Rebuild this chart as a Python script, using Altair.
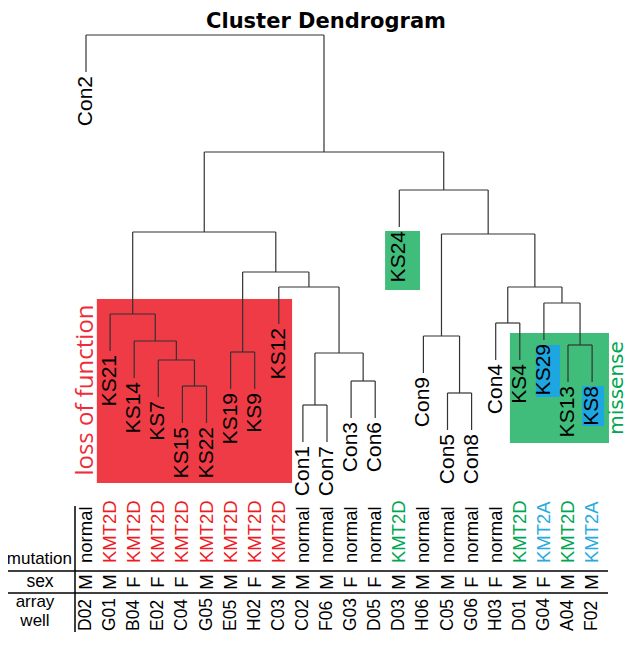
import altair as alt
import pandas as pd

# ---------------- data ----------------
leaves = ["Con2", "KS21", "KS14", "KS7", "KS15", "KS22", "KS19", "KS9", "KS12",
          "Con1", "Con7", "Con3", "Con6", "KS24", "Con9", "Con5", "Con8",
          "Con4", "KS4", "KS29", "KS13", "KS8"]
wells = ["D02", "G01", "B04", "E02", "C04", "G05", "E05", "H02", "C03", "C02", "F06",
         "G03", "D05", "D03", "H06", "C05", "G06", "H03", "D01", "G04", "A04", "F02"]
sex = ["M", "M", "F", "F", "F", "M", "M", "F", "M", "M", "M",
       "F", "F", "M", "M", "M", "F", "F", "M", "F", "M", "M"]
mutation = ["normal"] + ["KMT2D"] * 8 + ["normal"] * 4 + ["KMT2D"] + ["normal"] * 4 + \
           ["KMT2D", "KMT2A", "KMT2D", "KMT2A"]
mutation_class = ["normal"] + ["LoF"] * 8 + ["normal"] * 4 + ["missense"] + ["normal"] * 4 + \
                 ["missense", "KMT2A", "missense", "KMT2A"]

# hierarchical merges (R hclust style), heights in distance units
merge_node = ["n1", "n2", "n3", "n4", "n5", "n6", "n7", "n8", "n9", "n10", "n11",
              "n12", "n13", "n14", "n15", "n16", "n17", "n18", "n19", "n20", "n21"]
merge_left = ["KS15", "KS7", "KS14", "KS21", "KS19", "Con1", "Con3", "n6", "KS12", "n5", "n4",
              "Con5", "Con9", "Con4", "KS13", "KS29", "n14", "n13", "KS24", "n11", "Con2"]
merge_right = ["KS22", "n1", "n2", "n3", "KS9", "Con7", "Con6", "n7", "n8", "n9", "n10",
               "Con8", "n12", "KS4", "KS8", "n15", "n16", "n17", "n18", "n19", "n20"]
merge_height = [0.089, 0.115, 0.134, 0.161, 0.123, 0.070, 0.094, 0.122, 0.188, 0.203, 0.243,
                0.082, 0.139, 0.152, 0.130, 0.172, 0.188, 0.241, 0.285, 0.323, 0.440]

# highlight boxes: leaf-position extents and height extents
box_x = [0.45, 12.41, 17.59, 18.67, 20.58]
box_x2 = [8.55, 13.86, 21.70, 19.67, 21.50]
box_y = [-0.008, 0.185, 0.032, 0.078, 0.049]
box_y2 = [0.176, 0.244, 0.142, 0.130, 0.089]
box_fill = ["#EF3B45", "#40BC7B", "#40BC7B", "#1DA6DF", "#1DA6DF"]

# ---------------- dendrogram geometry ----------------
pos = {name: float(i) for i, name in enumerate(leaves)}
top = {}
hang = 0.1 * (max(merge_height) - min(merge_height))
segs = []
leaf_end = {}
for node, l, r, h in zip(merge_node, merge_left, merge_right, merge_height):
    segs.append(dict(x=pos[l], x2=pos[r], y=h, y2=h))
    for c in (l, r):
        if c in top:
            ct = top[c]
        else:
            ct = h - hang
            leaf_end[c] = ct
        segs.append(dict(x=pos[c], x2=pos[c], y=h, y2=ct))
    pos[node] = (pos[l] + pos[r]) / 2
    top[node] = h

seg_df = pd.DataFrame(segs)
leaf_df = pd.DataFrame(dict(leaf=leaves, x=[pos[n] for n in leaves],
                            y=[leaf_end[n] for n in leaves]))
table_df = pd.DataFrame(dict(x=list(range(len(leaves))), mutation=mutation,
                             mclass=mutation_class, sex=sex, well=wells))
box_df = pd.DataFrame(dict(x=box_x, x2=box_x2, y=box_y, y2=box_y2, fill=box_fill))

W, H = 620, 624
X0, DX = 78.0, 24.1          # pixel of first leaf, leaf spacing
xs = alt.Scale(domain=[-X0 / DX, (W - X0) / DX], nice=False, zero=False)
ys = alt.Scale(domain=[(467 - H) / 1000, 0.467], nice=False, zero=False)
FONT = "Liberation Sans"

boxes = alt.Chart(box_df).mark_rect().encode(
    x=alt.X("x:Q", scale=xs, axis=None), x2="x2:Q",
    y=alt.Y("y:Q", scale=ys, axis=None), y2="y2:Q",
    color=alt.Color("fill:N", scale=None))

tree = alt.Chart(seg_df).mark_rule(color="#333333", strokeWidth=1.2).encode(
    x=alt.X("x:Q", scale=xs, axis=None), x2="x2:Q",
    y=alt.Y("y:Q", scale=ys, axis=None), y2="y2:Q")

labels = alt.Chart(leaf_df).mark_text(angle=270, align="right", baseline="middle",
                                      dx=-4, fontSize=21, font=FONT, color="black").encode(
    x=alt.X("x:Q", scale=xs, axis=None), y=alt.Y("y:Q", scale=ys, axis=None), text="leaf:N")

# table row layout (pixels in the plot frame)
Y_MUT, Y_LINE1, Y_SEX, Y_LINE2, Y_WELL = 555, 563, 574, 585, 623

mcolor = alt.Color("mclass:N", legend=None,
                   scale=alt.Scale(domain=["normal", "LoF", "missense", "KMT2A"],
                                   range=["#000000", "#ED1C24", "#00A651", "#27AAE1"]))
mut_text = alt.Chart(table_df).mark_text(angle=270, align="left", baseline="middle",
                                         fontSize=18.5, font=FONT).encode(
    x=alt.X("x:Q", scale=xs, axis=None), y=alt.value(Y_MUT), text="mutation:N", color=mcolor)
sex_text = alt.Chart(table_df).mark_text(angle=270, align="center", baseline="middle",
                                         fontSize=18.5, font=FONT, color="black").encode(
    x=alt.X("x:Q", scale=xs, axis=None), y=alt.value(Y_SEX), text="sex:N")
well_text = alt.Chart(table_df).mark_text(angle=270, align="left", baseline="middle",
                                          fontSize=17.5, font=FONT, color="black").encode(
    x=alt.X("x:Q", scale=xs, axis=None), y=alt.value(Y_WELL), text="well:N")

sex_label = alt.Chart(pd.DataFrame(dict(t=["sex"]))).mark_text(
    align="center", baseline="middle", fontSize=17.5, font=FONT, color="black").encode(
    x=alt.value(32), y=alt.value(Y_SEX), text="t:N")
well_label = alt.Chart(pd.DataFrame(dict(t=["array\nwell"]))).mark_text(
    align="center", baseline="middle", fontSize=17, lineHeight=19, lineBreak="\n",
    font=FONT, color="black").encode(
    x=alt.value(27), y=alt.value(594), text="t:N")
mut_label = alt.Chart(pd.DataFrame(dict(t=["mutation"]))).mark_text(
    align="right", baseline="middle", fontSize=17, font=FONT, color="black").encode(
    x=alt.value(64), y=alt.value(551), text="t:N")

hl_df = pd.DataFrame(dict(py=[Y_LINE1, Y_LINE2]))
hlines = alt.Chart(hl_df).mark_rule(color="black", strokeWidth=1.5).encode(
    x=alt.value(0), x2=alt.value(600), y=alt.Y("py:Q", scale=None))
vline = alt.Chart(pd.DataFrame(dict(a=[0]))).mark_rule(color="black", strokeWidth=1.5).encode(
    x=alt.value(67), y=alt.value(498), y2=alt.value(H))

title = alt.Chart(pd.DataFrame(dict(t=["Cluster Dendrogram"]))).mark_text(
    align="center", baseline="alphabetic", fontSize=21, fontWeight="bold", font="DejaVu Sans",
    color="black").encode(x=alt.value(318), y=alt.value(20), text="t:N")

lof = alt.Chart(pd.DataFrame(dict(t=["loss of function"]))).mark_text(
    angle=270, align="center", baseline="middle", fontSize=24, font="Open Sans",
    color="#EE2D3A").encode(x=alt.value(78), y=alt.value(382), text="t:N")
mis = alt.Chart(pd.DataFrame(dict(t=["missense"]))).mark_text(
    angle=270, align="center", baseline="alphabetic", fontSize=20, font="DejaVu Sans",
    color="#00A651").encode(x=alt.value(615), y=alt.value(380), text="t:N")

chart = alt.layer(boxes, tree, labels, mut_text, sex_text, well_text, sex_label, well_label,
                  mut_label, hlines, vline, title, lof, mis).properties(
    width=W, height=H, padding=0, autosize=alt.AutoSizeParams(type="none")
).configure_view(stroke=None)

chart.save("out.html", embed_options={"renderer": "svg", "actions": False})
